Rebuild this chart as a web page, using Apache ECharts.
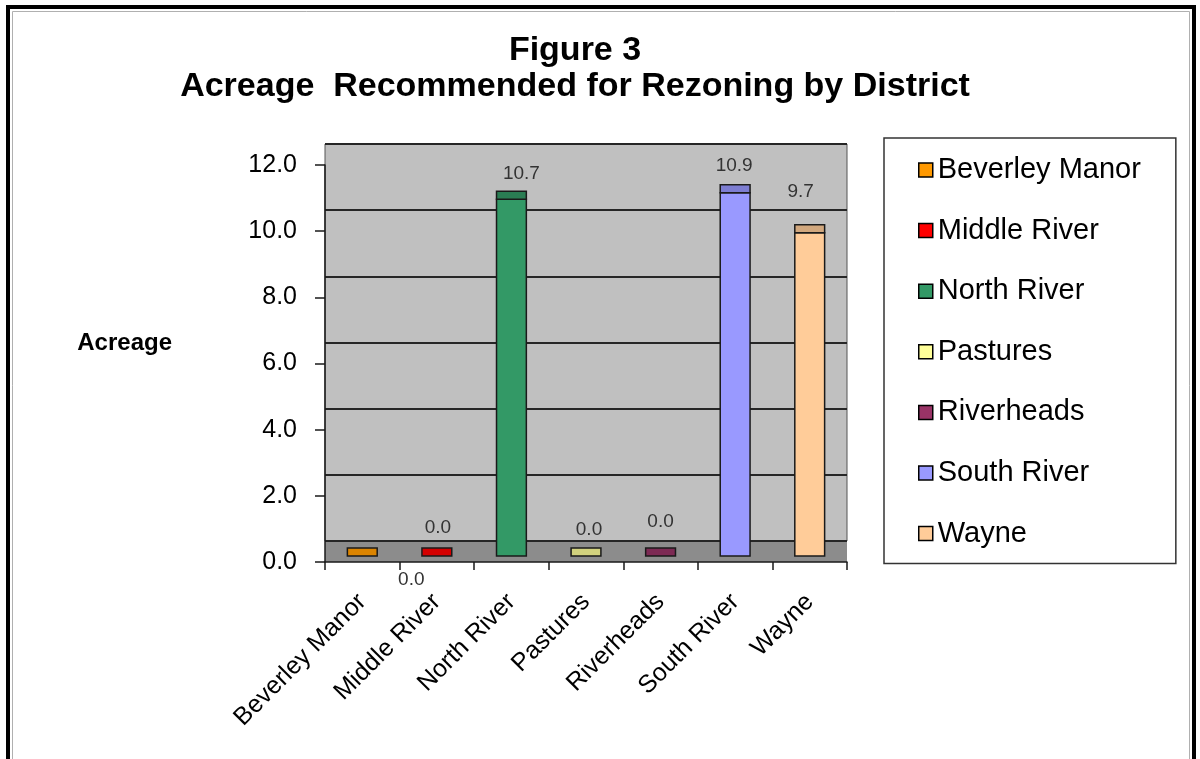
<!DOCTYPE html>
<html>
<head>
<meta charset="utf-8">
<script src="https://cdn.jsdelivr.net/npm/echarts@6/dist/echarts.min.js"></script>
<style>
  html, body { margin: 0; padding: 0; background: #fff; }
  #chart { width: 1200px; height: 759px; }
</style>
</head>
<body>
<div id="chart"></div>
<script>
// Districts and acreage recommended for rezoning
const districts = ['Beverley Manor', 'Middle River', 'North River', 'Pastures', 'Riverheads', 'South River', 'Wayne'];
const acreage = [0.0, 0.0, 10.7, 0.0, 0.0, 10.9, 9.7];

// Value axis range
const yMin = 0;
const yMax = 12;
const yStep = 2;

// Styling: front face colour and darker top face colour of each column
const frontColors = ['#FF9900', '#FF0000', '#339966', '#FFFF99', '#993366', '#9999FF', '#FFCC99'];
const topColors = ['#DB8400', '#D40000', '#2A7D53', '#D2D27E', '#7D2A54', '#7D7DD2', '#D2A87E'];
// Styling: data label nudges (px) from the top of each column
const labelNudge = [[49, 32], [1, -20], [10, -18], [3, -18], [0, -26], [-1, -19], [-9, -33]];

const FONT = '"Liberation Sans", Arial, sans-serif';
const DEPTH = 8; // thickness of the drawn top face

function columnRenderer(idx) {
  return function (params, api) {
    const cat = api.value(0);
    const val = api.value(1);
    const base = api.coord([cat, 0]);
    const top = api.coord([cat, val]);
    const w = api.size([1, 0])[0] * 0.4;
    const x = base[0] - w / 2;
    const children = [];
    if (base[1] - top[1] > 0.5) {
      children.push({
        type: 'rect',
        shape: { x: x, y: top[1], width: w, height: base[1] - top[1] },
        style: { fill: frontColors[idx], stroke: '#1a1a1a', lineWidth: 1.5 }
      });
    }
    children.push({
      type: 'rect',
      shape: { x: x, y: top[1] - DEPTH, width: w, height: DEPTH },
      style: { fill: topColors[idx], stroke: '#1a1a1a', lineWidth: 1.5 }
    });
    children.push({
      type: 'text',
      style: {
        text: val.toFixed(1),
        x: base[0] + labelNudge[idx][0],
        y: top[1] - DEPTH + labelNudge[idx][1],
        align: 'center',
        verticalAlign: 'middle',
        fontSize: 19,
        fontFamily: FONT,
        fill: '#333'
      }
    });
    return { type: 'group', children: children };
  };
}

const chart = echarts.init(document.getElementById('chart'));

chart.setOption({
  backgroundColor: '#fff',
  animation: false,
  title: {
    text: 'Figure 3\nAcreage  Recommended for Rezoning by District',
    left: 570,
    top: 28,
    textAlign: 'center',
    textStyle: { fontFamily: FONT, fontSize: 34, fontWeight: 'bold', color: '#000', lineHeight: 36 }
  },
  legend: {
    orient: 'vertical',
    left: 884,
    top: 138,
    selectedMode: false,
    data: districts.map((n, i) => ({
      name: n,
      icon: 'rect',
      itemStyle: { color: frontColors[i], borderColor: '#000', borderWidth: 1.5 }
    })),
    itemWidth: 14,
    itemHeight: 14,
    itemGap: 30.6,
    padding: [17, 35, 15, 34],
    borderColor: '#333',
    borderWidth: 1.5,
    textStyle: { fontFamily: FONT, fontSize: 29, color: '#000', lineHeight: 30 }
  },
  grid: [
    // front plane: axes and floor
    { left: 325, right: 353, top: 165, bottom: 197, show: true, backgroundColor: '#8c8c8c', borderWidth: 0 },
    // back wall
    { left: 325, right: 353, top: 144, bottom: 218, show: true, backgroundColor: '#c0c0c0', borderColor: '#555', borderWidth: 1 },
    // columns, standing mid-depth
    { left: 325, right: 353, top: 156, bottom: 203 }
  ],
  xAxis: [
    {
      gridIndex: 0, type: 'category', data: districts,
      axisLine: { lineStyle: { color: '#1a1a1a', width: 1.5 } },
      axisTick: { show: true, length: 8, lineStyle: { color: '#1a1a1a', width: 1.5 } },
      axisLabel: { rotate: 45, interval: 0, fontFamily: FONT, fontSize: 25, color: '#000', margin: 36 },
      splitLine: { show: false }
    },
    { gridIndex: 1, type: 'category', data: districts, show: false },
    { gridIndex: 2, type: 'category', data: districts, show: false }
  ],
  yAxis: [
    {
      gridIndex: 0, type: 'value', min: yMin, max: yMax, interval: yStep,
      axisLine: { show: true, lineStyle: { color: '#1a1a1a', width: 1.5 } },
      axisTick: { show: true, length: 10, lineStyle: { color: '#1a1a1a', width: 1.5 } },
      axisLabel: { formatter: v => v.toFixed(1), fontFamily: FONT, fontSize: 25, color: '#000', margin: 28 },
      splitLine: { show: false },
      name: 'Acreage\n ',
      nameLocation: 'middle',
      nameRotate: 0,
      nameGap: 153,
      nameTextStyle: { fontFamily: FONT, fontSize: 24, fontWeight: 'bold', color: '#000', lineHeight: 40 }
    },
    {
      gridIndex: 1, type: 'value', min: yMin, max: yMax, interval: yStep,
      axisLine: { show: false }, axisTick: { show: false }, axisLabel: { show: false },
      splitLine: { show: true, lineStyle: { color: '#262626', width: 2 } }
    },
    { gridIndex: 2, type: 'value', min: yMin, max: yMax, interval: yStep, show: false }
  ],
  graphic: [
    { type: 'rect', silent: true, z: 100, shape: { x: 8, y: 7, width: 1186, height: 800 }, style: { fill: 'none', stroke: '#000', lineWidth: 4 } },
    { type: 'rect', silent: true, z: 100, shape: { x: 12.5, y: 11.5, width: 1177, height: 800 }, style: { fill: 'none', stroke: '#b0b0b0', lineWidth: 1 } }
  ],
  series: districts.map((name, i) => ({
    name: name,
    type: 'custom',
    xAxisIndex: 2,
    yAxisIndex: 2,
    itemStyle: { color: frontColors[i] },
    renderItem: columnRenderer(i),
    data: [[i, acreage[i]]],
    z: 5
  }))
});
</script>
</body>
</html>
